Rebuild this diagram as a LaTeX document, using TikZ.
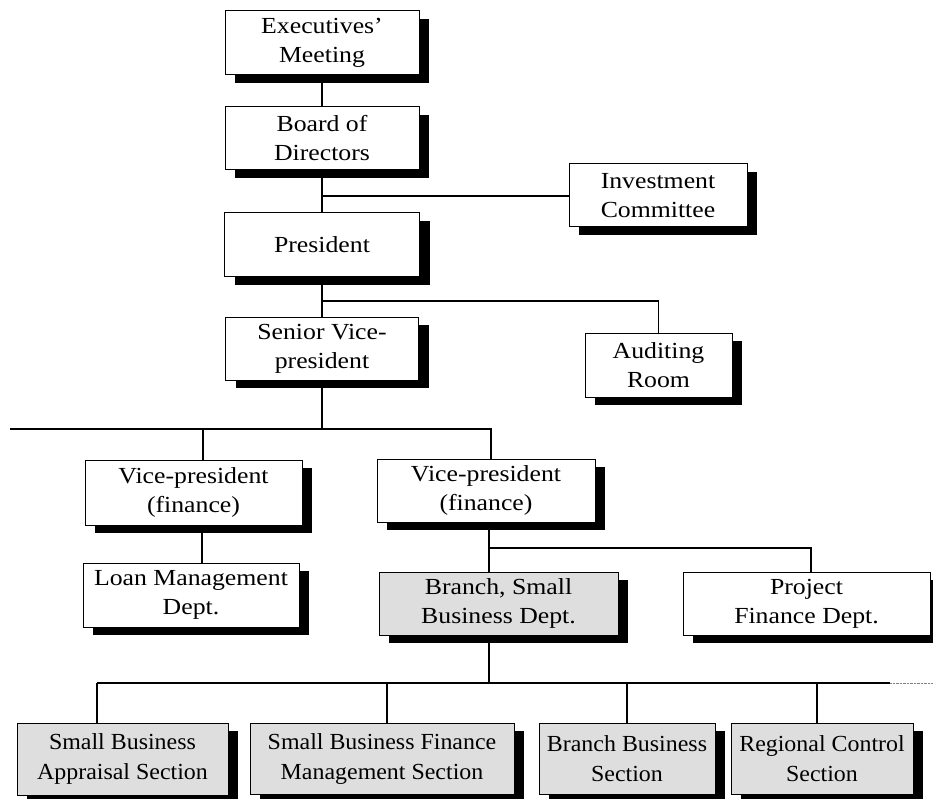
\documentclass[tikz,border=0pt]{standalone}
\usepackage{fontspec}
\setmainfont{Liberation Serif}[FakeStretch=1.12]
\newfontfamily\sectfont{Liberation Serif}[FakeStretch=1.04]
\usetikzlibrary{shadows}

\begin{document}
\begin{tikzpicture}[x=1pt, y=-1pt, line width=1.1pt,
    orgbox/.style={draw, fill=white, line width=1pt, align=center, inner sep=0pt,
        font=\fontsize{23}{29}\selectfont,
        drop shadow={shadow xshift=10pt, shadow yshift=-8pt, fill=black, opacity=1}},
    secbox/.style={orgbox, fill=black!13, font=\sectfont\fontsize{23}{30}\selectfont}]
        \useasboundingbox (0,0) rectangle (933,799);

        % Top of the chart
        \node[orgbox, minimum width=194pt, minimum height=64pt] (exec) at (322,43) {Executives'\\Meeting};
        \node[orgbox, minimum width=194pt, minimum height=63pt] (board) at (322,138.5) {Board of\\Directors};
        \node[orgbox, minimum width=178pt, minimum height=63pt] (invest) at (658,195.5) {Investment\\Committee};
        \node[orgbox, minimum width=195pt, minimum height=64pt] (pres) at (322,245) {President};
        \node[orgbox, minimum width=193pt, minimum height=63pt] (svp) at (322,348.5) {Senior Vice-\\president};
        \node[orgbox, minimum width=147pt, minimum height=64pt] (audit) at (658.5,365) {Auditing\\Room};

        % Vice-presidents and departments
        \node[orgbox, minimum width=217pt, minimum height=65pt] (vpl) at (193.5,492.5) {Vice-president\\(finance)};
        \node[orgbox, minimum width=218pt, minimum height=63pt] (vpr) at (486,490.5) {Vice-president\\(finance)};
        \node[orgbox, minimum width=216pt, minimum height=64pt] (loan) at (191,595) {Loan Management\\Dept.};
        \node[secbox, font=\fontsize{23}{29}\selectfont, minimum width=239pt, minimum height=63pt] (branch) at (498.5,603.5) {Branch, Small\\Business Dept.};
        \node[orgbox, minimum width=247pt, minimum height=63pt] (project) at (806.5,603.5) {Project\\Finance Dept.};

        % Sections
        \node[secbox, minimum width=211pt, minimum height=72pt] (sba) at (122.5,759) {Small Business\\Appraisal Section};
        \node[secbox, minimum width=264pt, minimum height=71pt] (sbfm) at (382,758.5) {Small Business Finance\\Management Section};
        \node[secbox, minimum width=176pt, minimum height=71pt] (bbs) at (627,758.5) {Branch Business\\Section};
        \node[secbox, minimum width=182pt, minimum height=71pt] (rcs) at (822,758.5) {Regional Control\\Section};

        % Junctions
        \coordinate (jInv) at (322,196);
        \coordinate (jAud) at (322,301);
        \coordinate (jVp) at (322,429);
        \coordinate (busW) at (10,429);
        \coordinate (busE) at (491,429);
        \coordinate (jVpl) at (203,429);
        \coordinate (jLoan) at (202,545);
        \coordinate (jBr) at (489,548);
        \coordinate (jPrj) at (811,548);
        \coordinate (jSec) at (489,683);
        \coordinate (secW) at (97,683);
        \coordinate (secE) at (890,683);
        \coordinate (secEnd) at (933,683);

        % Lines
        \draw (exec) -- (board);
        \draw (board) -- (pres);
        \draw (jInv) -- (jInv -| invest.west);
        \draw (pres) -- (svp);
        \draw (jAud) -| (audit);
        \draw (svp) -- (jVp);
        \draw (busW) -- (busE) -- (busE |- vpr.north);
        \draw (jVpl) -- (jVpl |- vpl.north);
        \draw (jLoan |- vpl.south) -- (jLoan |- loan.north);
        \draw (jBr |- vpr.south) -- (jBr |- branch.north);
        \draw (jBr) -- (jPrj) -- (jPrj |- project.north);
        \draw (jSec |- branch.south) -- (jSec);
        \draw (secW) -- (secE);
        \draw[densely dotted, line width=0.4pt, gray] (secE) -- (secEnd);
        \foreach \n/\x in {sba/97, sbfm/387, bbs/627, rcs/817} {
            \coordinate (d\n) at (\x,683);
            \draw (d\n) -- (d\n |- \n.north);
        }
    \end{tikzpicture}
\end{document}
